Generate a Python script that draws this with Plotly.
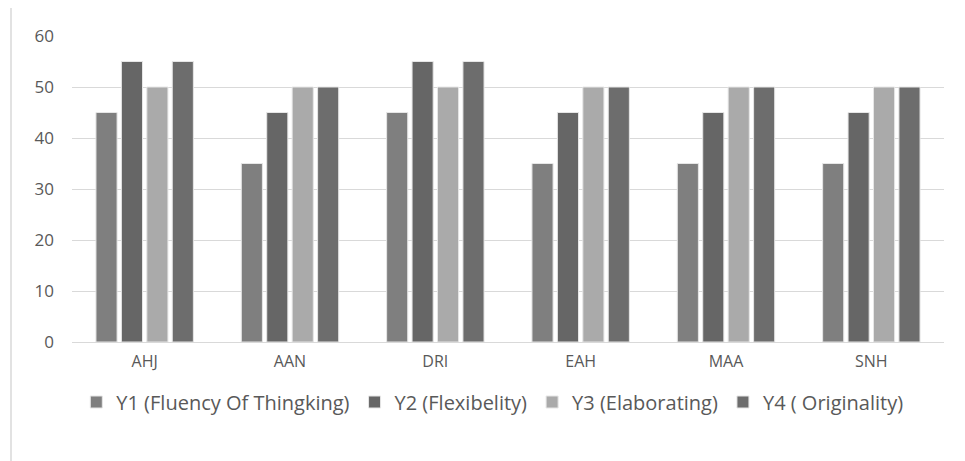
import plotly.graph_objects as go

categories = ["AHJ", "AAN", "DRI", "EAH", "MAA", "SNH"]
series_names = ["Y1 (Fluency Of Thingking)", "Y2 (Flexibelity)", "Y3 (Elaborating)", "Y4 ( Originality)"]
y1 = [45, 35, 45, 35, 35, 35]
y2 = [55, 45, 55, 45, 45, 45]
y3 = [50, 50, 50, 50, 50, 50]
y4 = [55, 50, 55, 50, 50, 50]
y_ticks = [0, 10, 20, 30, 40, 50, 60]

colors = ["#7f7f7f", "#666666", "#aaaaaa", "#6d6d6d"]

fig = go.Figure()
for name, vals, c in zip(series_names, [y1, y2, y3, y4], colors):
    fig.add_trace(go.Bar(x=categories, y=vals, name=name, marker=dict(color=c, line=dict(color="#e6e6e6", width=1))))

OFF = 8  # page body margin
FW, FH = 957, 453
L, T, W, H = 72 - OFF, 36 - OFF, 872, 306
B = T + H
fig.update_layout(
    width=FW, height=FH,
    margin=dict(l=L, r=FW - L - W, t=T, b=FH - T - H),
    paper_bgcolor="white", plot_bgcolor="white",
    barmode="group", bargap=0.3, bargroupgap=0.17,
    font=dict(family="Open Sans, Liberation Sans, sans-serif", size=16, color="#595959"),
    xaxis=dict(showgrid=False, showline=True, linecolor="#d9d9d9", linewidth=1, ticks="",
               tickfont=dict(size=16), ticklabelstandoff=5),
    yaxis=dict(range=[0, 60], tickvals=y_ticks, showgrid=True, gridcolor="#d9d9d9", gridwidth=1,
               zeroline=False, showline=False, ticks="", ticklabelstandoff=17, tickfont=dict(size=17)),
    legend=dict(orientation="h", x=0.482, xanchor="center", y=(B - (402 - OFF)) / H, yanchor="middle",
                font=dict(size=20), itemwidth=30, traceorder="normal", tracegroupgap=0),
    shapes=[dict(type="line", xref="paper", yref="paper", x0=(11 - OFF - L) / W, x1=(11 - OFF - L) / W,
                 y0=(B - 0) / H, y1=(B - FH) / H, line=dict(color="#d9d9d9", width=1.5))],
)
fig.write_html("out.html")
